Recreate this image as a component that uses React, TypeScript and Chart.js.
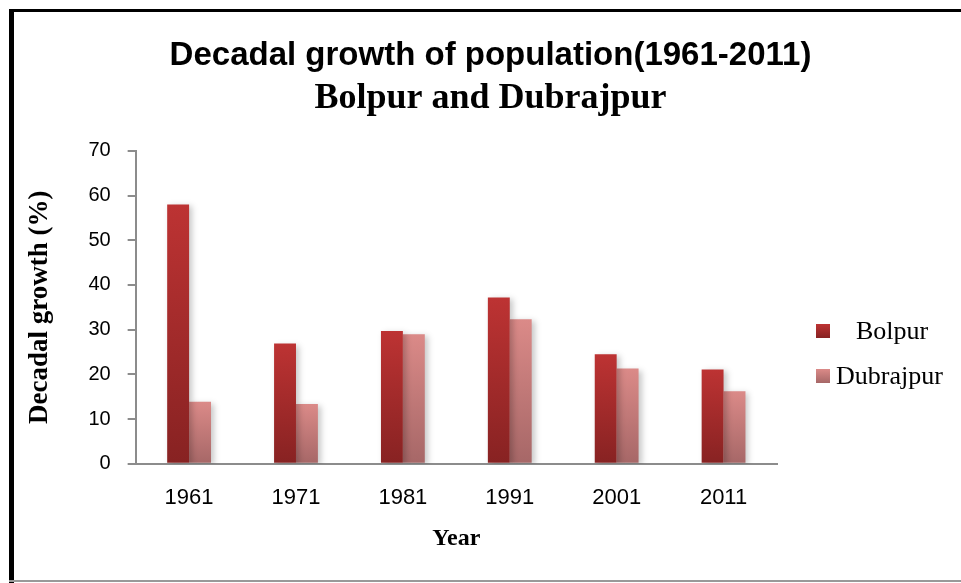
import React, { useEffect, useRef } from "react";
import { Chart, registerables } from "chart.js";
Chart.register(...registerables);

const categories = ["1961", "1971", "1981", "1991", "2001", "2011"];
const bolpur = [58, 26.9, 29.7, 37.2, 24.5, 21.1];
const dubrajpur = [13.9, 13.4, 29, 32.3, 21.3, 16.2];
const seriesNames = ["Bolpur", "Dubrajpur"];
const yMin = 0;
const yMax = 70;
const yStep = 10;

const titleText = "Decadal growth of population(1961-2011)";
const subtitleText = "Bolpur and Dubrajpur";
const yTitle = "Decadal growth (%)";
const xTitle = "Year";

const palettes = [
  { top: "#bd3333", bottom: "#872222" },
  { top: "#db8a88", bottom: "#a66767" },
];

function barGradient(context: any, idx: number) {
  const chart = context.chart;
  const p = palettes[idx];
  if (!chart.chartArea || context.raw == null) return p.top;
  const ys = chart.scales.y;
  const yTop = ys.getPixelForValue(context.raw);
  const yBot = ys.getPixelForValue(0);
  if (!isFinite(yTop) || !isFinite(yBot) || yTop === yBot) return p.top;
  const g = chart.ctx.createLinearGradient(0, yTop, 0, yBot);
  g.addColorStop(0, p.top);
  g.addColorStop(1, p.bottom);
  return g;
}

const shadowPlugin = {
  id: "barShadow",
  beforeDatasetsDraw(chart: any) {
    const c = chart.ctx;
    c.save();
    c.shadowColor = "rgba(0,0,0,0.22)";
    c.shadowBlur = 6;
    c.shadowOffsetX = 3;
    c.shadowOffsetY = 2;
  },
  afterDatasetsDraw(chart: any) {
    chart.ctx.restore();
  },
};

const legendPlugin = {
  id: "sideLegend",
  afterDraw(chart: any) {
    const c = chart.ctx;
    const area = chart.chartArea;
    const x0 = area.right + 39;
    const rows = [
      { y: 331, tx: x0 + 40 },
      { y: 376, tx: x0 + 20 },
    ];
    c.save();
    rows.forEach((r, i) => {
      const p = palettes[i];
      const g = c.createLinearGradient(0, r.y - 7, 0, r.y + 7);
      g.addColorStop(0, p.top);
      g.addColorStop(1, p.bottom);
      c.fillStyle = g;
      c.fillRect(x0, r.y - 7, 14, 14);
      c.fillStyle = "#000";
      c.font = "26px 'Liberation Serif', serif";
      c.textAlign = "left";
      c.textBaseline = "middle";
      c.fillText(chart.data.datasets[i].label, r.tx, r.y + 1);
    });
    c.restore();
  },
};

export default function App() {
  const ref = useRef<HTMLCanvasElement | null>(null);
  useEffect(() => {
    if (!ref.current) return;
    const chart = new Chart(ref.current, {
      type: "bar",
      data: {
        labels: categories,
        datasets: [
          {
            label: seriesNames[0],
            data: bolpur,
            backgroundColor: (ctx: any) => barGradient(ctx, 0),
            borderWidth: 0,
            barPercentage: 1,
            categoryPercentage: 0.41,
          },
          {
            label: seriesNames[1],
            data: dubrajpur,
            backgroundColor: (ctx: any) => barGradient(ctx, 1),
            borderWidth: 0,
            barPercentage: 1,
            categoryPercentage: 0.41,
          },
        ],
      },
      options: {
        responsive: false,
        animation: false,
        layout: { padding: { left: 24, right: 4, top: 0, bottom: 30 } },
        plugins: {
          legend: { display: false },
          tooltip: { enabled: false },
          title: {
            display: true,
            text: titleText,
            color: "#000",
            font: { family: "'Liberation Sans Narrow', 'Liberation Sans', sans-serif", size: 33, weight: "bold" },
            padding: { top: 36, bottom: 0 },
          },
          subtitle: {
            display: true,
            text: subtitleText,
            color: "#000",
            font: { family: "'Liberation Serif', serif", size: 36, weight: "bold" },
            padding: { top: 2, bottom: 30 },
          },
        },
        scales: {
          x: {
            grid: { display: false },
            border: { color: "#8c8c8c", width: 2 },
            ticks: {
              color: "#000",
              font: { family: "'Liberation Sans', sans-serif", size: 22 },
              padding: 13,
            },
            title: {
              display: true,
              text: xTitle,
              color: "#000",
              font: { family: "'Liberation Serif', serif", size: 24, weight: "bold" },
              padding: { top: 0, bottom: 0 },
            },
          },
          y: {
            min: yMin,
            max: yMax,
            grid: {
              drawOnChartArea: false,
              drawTicks: true,
              tickLength: 8,
              color: "#8c8c8c",
              lineWidth: 2,
            },
            border: { color: "#8c8c8c", width: 2 },
            ticks: {
              stepSize: yStep,
              color: "#000",
              font: { family: "'Liberation Sans', sans-serif", size: 20 },
              padding: 17,
            },
            title: {
              display: true,
              text: yTitle,
              color: "#000",
              font: { family: "'Liberation Serif', serif", size: 27, weight: "bold" },
              padding: { top: 0, bottom: 15 },
            },
          },
          legendSpace: {
            position: "right",
            display: true,
            grid: { display: false, drawTicks: false },
            border: { display: false },
            ticks: { display: false },
            afterFit: (s: any) => {
              s.width = 180;
            },
          },
        },
      },
      plugins: [shadowPlugin, legendPlugin],
    });
    return () => chart.destroy();
  }, []);

  return (
    <div style={{ position: "fixed", left: 0, top: 0, width: 961, height: 583, background: "#fff" }}>
      <canvas ref={ref} width={961} height={583} style={{ position: "absolute", left: 0, top: 0 }} />
      <div style={{ position: "absolute", left: 9, top: 9, width: 5, height: 574, background: "#000" }} />
      <div style={{ position: "absolute", left: 9, top: 9, width: 952, height: 3, background: "#000" }} />
      <div style={{ position: "absolute", left: 9, top: 580, width: 952, height: 2, background: "#999" }} />
    </div>
  );
}
